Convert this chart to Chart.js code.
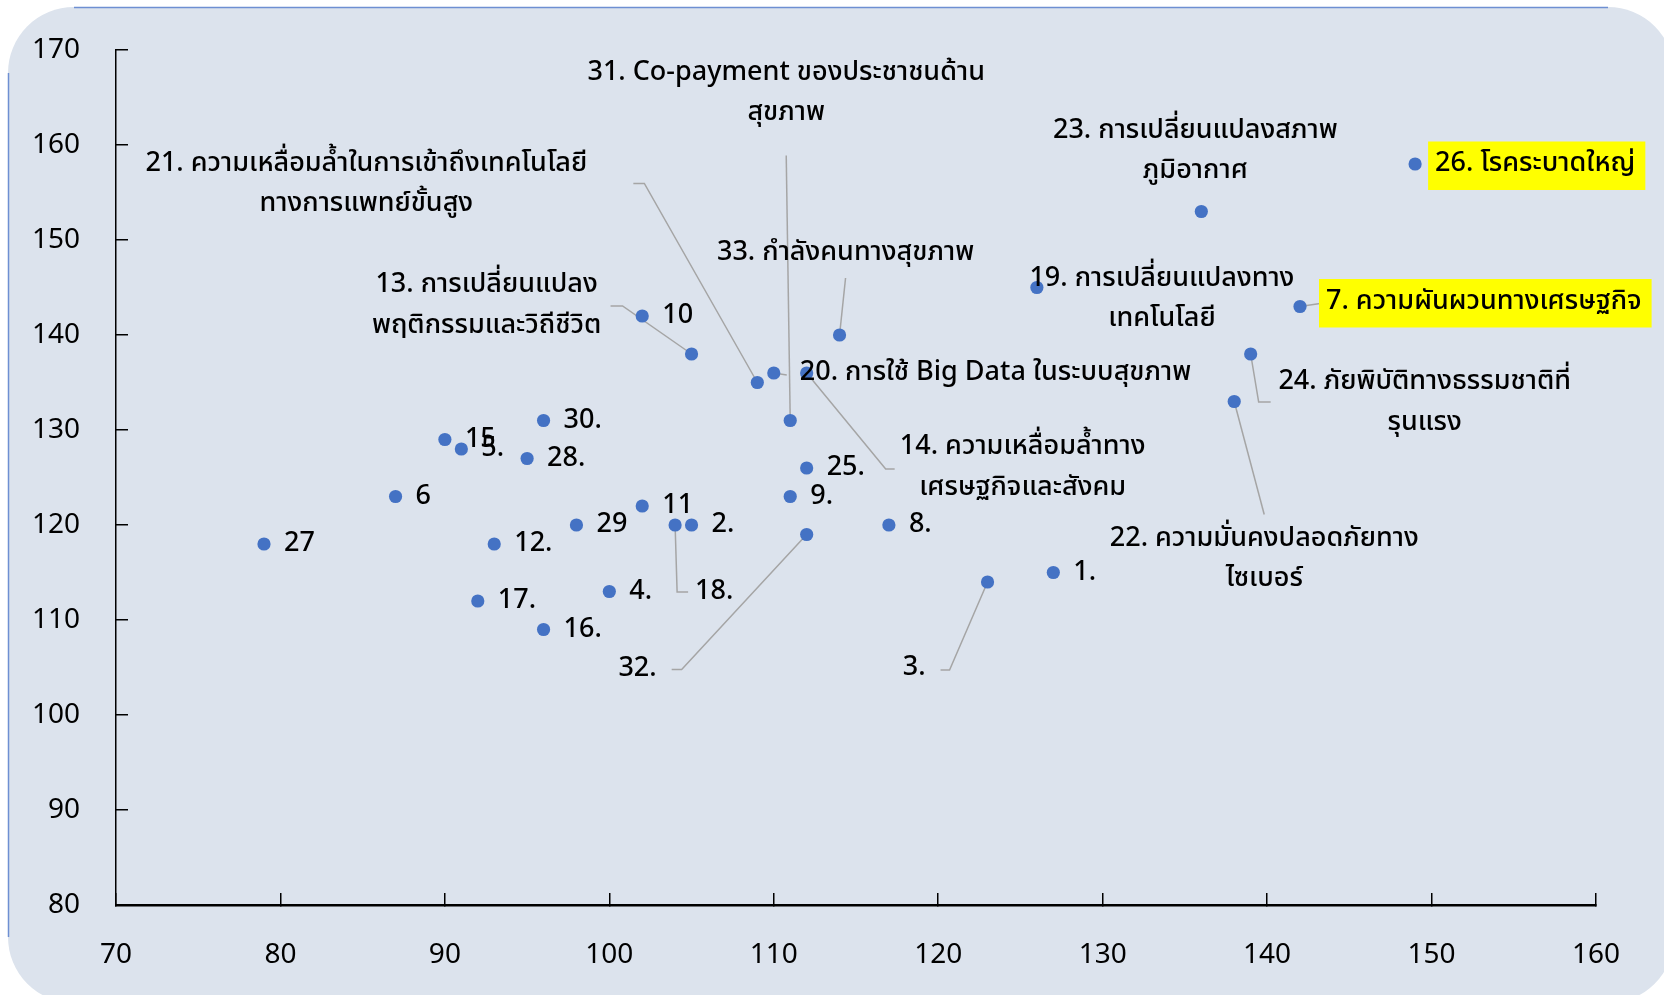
<!DOCTYPE html>
<html><head><meta charset="utf-8">
<script src="https://cdn.jsdelivr.net/npm/chart.js@4.4.1/dist/chart.umd.min.js"></script>
<style>html,body{margin:0;padding:0;background:#fff;overflow:hidden}canvas{display:block}</style>
</head><body>
<canvas id="c" width="1664" height="995"></canvas>
<script>
// ---- data ----
const pointIds = [1,2,3,4,5,6,7,8,9,10,11,12,13,14,15,16,17,18,19,20,21,22,23,24,25,26,27,28,29,30,31,32,33];
const xValues  = [127,105,123,100,91,87,142,117,111,102,102,93,105,112,90,96,92,104,126,110,109,138,136,139,112,149,79,95,98,96,111,112,114];
const yValues  = [115,120,114,113,128,123,143,120,123,142,122,118,138,136,129,109,112,120,145,136,135,133,153,138,126,158,118,127,120,131,131,119,140];
const labelTexts = {
  1:["1."],2:["2."],3:["3."],4:["4."],5:["5."],6:["6"],
  7:["7. ความผันผวนทางเศรษฐกิจ"],8:["8."],9:["9."],10:["10"],11:["11"],12:["12."],
  13:["13. การเปลี่ยนแปลง","พฤติกรรมและวิถีชีวิต"],
  14:["14. ความเหลื่อมล้ำทาง","เศรษฐกิจและสังคม"],
  15:["15"],16:["16."],17:["17."],18:["18."],
  19:["19. การเปลี่ยนแปลงทาง","เทคโนโลยี"],
  20:["20. การใช้ Big Data ในระบบสุขภาพ"],
  21:["21. ความเหลื่อมล้ำในการเข้าถึงเทคโนโลยี","ทางการแพทย์ขั้นสูง"],
  22:["22. ความมั่นคงปลอดภัยทาง","ไซเบอร์"],
  23:["23. การเปลี่ยนแปลงสภาพ","ภูมิอากาศ"],
  24:["24. ภัยพิบัติทางธรรมชาติที่","รุนแรง"],
  25:["25."],26:["26. โรคระบาดใหญ่"],27:["27"],28:["28."],29:["29"],30:["30."],
  31:["31. Co-payment ของประชาชนด้าน","สุขภาพ"],
  32:["32."],33:["33. กำลังคนทางสุขภาพ"]
};
const highlightedIds = [7,26];
const xTickValues = [70,80,90,100,110,120,130,140,150,160];
const yTickValues = [80,90,100,110,120,130,140,150,160,170];

// ---- label layout (pixel offsets from each point) ----
const defaultPlacement = {dx:20, dy:2, align:'left'};
const placements = {
  3:{dx:-62,dy:88,align:'right',leader:[[-47,88],[-38,88],[0,0]]},
  7:{dx:26,dy:-3,align:'left',leader:[[0,0],[20,-3]]},
  13:{dx:-205,dy:-67,align:'center',leader:[[-81,-48],[-69,-48],[0,0]]},
  14:{dx:216,dy:76,align:'center',leader:[[0,0],[79,96],[88,96]]},
  18:{dx:20,dy:69,align:'left',leader:[[0,0],[2,67],[13,67]]},
  19:{dx:125,dy:-7,align:'center'},
  20:{dx:26,dy:2,align:'left',leader:[[0,0],[13,2]]},
  21:{dx:-391,dy:-217,align:'center',leader:[[-124,-199],[-113,-199],[0,0]]},
  22:{dx:30,dy:139,align:'center',leader:[[0,0],[30,113]]},
  23:{dx:-6,dy:-79,align:'center'},
  24:{dx:174,dy:30,align:'center',leader:[[0,0],[8,48],[20,48]]},
  26:{dx:20,dy:2,align:'left'},
  31:{dx:-4,dy:-346,align:'center',leader:[[-4,-265],[0,0]]},
  32:{dx:-150,dy:136,align:'right',leader:[[-135,135],[-125,135],[0,0]]},
  33:{dx:6,dy:-80,align:'center',leader:[[6,-57],[0,0]]}
};
const LINE_GAP = 40.5;
const LABEL_FONT = '"Noto Sans Thai","Noto Sans Thai UI","Noto Sans","DejaVu Sans",sans-serif';
const TICK_FONT = '"Noto Sans","Noto Sans Thai",sans-serif';

const panelPlugin = {
  id:'panel',
  beforeDraw(chart){
    const ctx = chart.ctx;
    const L = 8, T = 7, R = 1674, B = 1003, rad = 66;
    ctx.save();
    ctx.fillStyle = '#ffffff';
    ctx.fillRect(0,0,chart.width,chart.height);
    ctx.beginPath();
    ctx.roundRect(L,T,R-L,B-T,rad);
    ctx.fillStyle = '#DCE3ED';
    ctx.fill();
    ctx.strokeStyle = '#6E8FD2';
    ctx.lineWidth = 1.5;
    ctx.beginPath();
    ctx.moveTo(L+rad, T+0.5); ctx.lineTo(R-rad, T+0.5);
    ctx.moveTo(L+0.5, T+rad); ctx.lineTo(L+0.5, B-rad);
    ctx.stroke();
    ctx.restore();
  }
};

const labelPlugin = {
  id:'labels',
  beforeDatasetsDraw(chart){
    const ctx = chart.ctx;
    const meta = chart.getDatasetMeta(0);
    ctx.save();
    ctx.strokeStyle = '#A5A5A5';
    ctx.lineWidth = 1.5;
    pointIds.forEach((id,i)=>{
      const p = placements[id];
      if(!p || !p.leader) return;
      const el = meta.data[i];
      ctx.beginPath();
      p.leader.forEach(([lx,ly],k)=>{
        if(k===0) ctx.moveTo(el.x+lx, el.y+ly); else ctx.lineTo(el.x+lx, el.y+ly);
      });
      ctx.stroke();
    });
    ctx.restore();
  },
  afterDatasetsDraw(chart){
    const ctx = chart.ctx;
    const meta = chart.getDatasetMeta(0);
    ctx.save();
    ctx.textBaseline = 'middle';
    pointIds.forEach((id,i)=>{
      const p = Object.assign({}, defaultPlacement, placements[id]||{});
      const el = meta.data[i];
      const lines = labelTexts[id];
      const hl = highlightedIds.includes(id);
      ctx.font = '500 27px ' + LABEL_FONT;
      ctx.textAlign = p.align;
      const x = el.x + p.dx;
      lines.forEach((t,k)=>{
        const y = el.y + p.dy + k*LINE_GAP;
        if(hl){
          const w = ctx.measureText(t).width;
          ctx.fillStyle = '#FFFF00';
          ctx.fillRect(x-7, y-24.5, w+17, 48.5);
        }
        ctx.fillStyle = '#000000';
        ctx.fillText(t, x, y);
      });
    });
    ctx.restore();
  }
};

new Chart(document.getElementById('c'), {
  type:'scatter',
  data:{datasets:[{
    data: pointIds.map((id,i)=>({x:xValues[i], y:yValues[i]})),
    backgroundColor:'#4472C4', borderWidth:0, pointRadius:6.6, pointHoverRadius:6.6
  }]},
  options:{
    responsive:false, animation:false, devicePixelRatio:1,
    layout:{padding:{top:50,right:68,bottom:0,left:0}, autoPadding:false},
    plugins:{legend:{display:false}, tooltip:{enabled:false}},
    events:[],
    scales:{
      x:{type:'linear', min:70, max:160,
        afterBuildTicks:s=>{ s.ticks = xTickValues.map(v=>({value:v})); },
        ticks:{padding:45, color:'#000', font:{size:28, family:TICK_FONT}, maxRotation:0, autoSkip:false},
        grid:{drawOnChartArea:false, drawTicks:true, tickLength:-12, color:'#000', lineWidth:1.5},
        border:{display:true, color:'#000', width:2.5},
        afterFit:s=>{ s.height = 90; s.paddingLeft = 0; s.paddingRight = 0; }
      },
      y:{type:'linear', min:80, max:170,
        afterBuildTicks:s=>{ s.ticks = yTickValues.map(v=>({value:v})); },
        ticks:{padding:48, color:'#000', font:{size:28, family:TICK_FONT}, autoSkip:false},
        grid:{drawOnChartArea:false, drawTicks:true, tickLength:-12, color:'#000', lineWidth:1.5},
        border:{display:true, color:'#000', width:1.5},
        afterFit:s=>{ s.width = 116; s.paddingTop = 0; s.paddingBottom = 0; }
      }
    }
  },
  plugins:[panelPlugin, labelPlugin]
});
</script>
</body></html>
